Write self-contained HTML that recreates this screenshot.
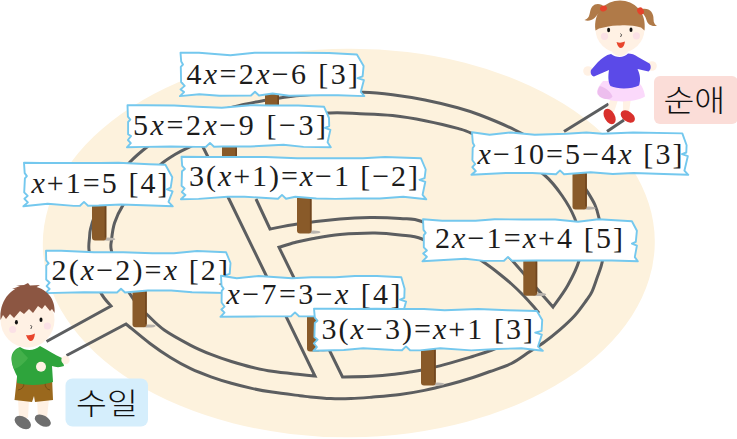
<!DOCTYPE html>
<html lang="ko"><head><meta charset="utf-8"><title>maze</title><style>html,body{margin:0;padding:0;background:#fff}svg{display:block}</style></head><body>
<svg width="737" height="439" viewBox="0 0 737 439">
<rect width="737" height="439" fill="#fff"/>
<ellipse cx="348.8" cy="243" rx="306" ry="194.3" transform="rotate(-0.35 348.8 243)" fill="#FDF2DD"/>
<path d="M46.5 341.5 L111 306 C109.3 303.8 104.0 299.0 101.0 293.0 C98.0 287.0 95.0 277.2 93.0 270.0 C91.0 262.8 89.6 255.3 89.0 250.0 C88.4 244.7 89.2 241.5 89.5 238.0 C89.8 234.5 89.6 232.8 90.5 229.0 C91.4 225.2 92.9 220.2 95.0 215.0 C97.1 209.8 99.7 203.8 103.0 198.0 C106.3 192.2 110.5 186.0 115.0 180.0 C119.5 174.0 124.7 167.5 130.0 162.0 C135.3 156.5 140.0 152.5 147.0 147.0 C154.0 141.5 162.2 134.4 172.0 129.0 C181.8 123.6 193.8 118.6 206.0 114.5 C218.2 110.4 235.1 106.7 245.0 104.3 C254.9 101.9 257.2 101.7 265.7 100.3 C274.2 98.9 285.3 97.0 296.0 95.8 C306.7 94.6 318.8 93.8 330.0 93.2 C341.2 92.6 352.6 92.0 363.0 92.2 C373.4 92.5 382.3 93.4 392.6 94.7 C402.9 96.0 414.1 97.8 425.0 100.0 C435.9 102.2 448.5 105.2 457.7 107.7 C466.9 110.2 470.4 111.3 480.0 115.0 C489.6 118.7 503.0 124.0 515.0 130.0 C527.0 136.0 542.0 143.8 552.0 151.0 C562.0 158.2 569.2 166.3 575.0 173.0 C580.8 179.7 583.7 185.7 587.0 191.0 C590.3 196.3 593.0 200.5 595.0 205.0 C597.0 209.5 597.7 212.2 599.0 218.0 C600.3 223.8 602.4 232.9 603.0 240.0 C603.6 247.1 603.5 254.2 602.5 260.5 C601.5 266.8 598.8 272.8 597.0 278.0 C595.2 283.2 593.7 287.9 592.0 291.6 C590.3 295.3 589.5 296.0 586.6 300.0 C583.7 304.0 579.1 310.7 574.6 315.7 C570.1 320.7 564.7 325.5 559.7 329.9 C554.7 334.2 549.8 338.2 544.8 341.8 C539.8 345.4 535.5 347.9 529.9 351.5 C524.3 355.1 518.0 360.2 511.4 363.5 C504.8 366.8 496.4 369.2 490.0 371.5 C483.6 373.8 479.8 375.3 473.0 377.5 C466.2 379.7 457.1 382.4 449.0 384.5 C440.9 386.6 432.6 388.7 424.4 390.4 C416.2 392.1 408.8 393.4 400.0 394.5 C391.2 395.6 379.6 396.5 371.4 397.2 C363.2 397.9 357.8 398.4 351.0 398.6 C344.2 398.8 337.5 398.9 330.7 398.6 C323.9 398.3 315.5 397.5 310.4 397.0 C305.3 396.5 306.4 396.5 300.0 395.7 C293.6 394.9 280.1 393.3 272.1 392.1 C264.1 390.9 258.6 389.9 251.8 388.4 C245.0 386.9 238.2 385.2 231.4 383.3 C224.6 381.4 217.8 379.2 211.0 376.8 C204.2 374.4 197.5 371.9 190.7 368.7 C183.9 365.5 177.2 361.7 170.4 357.5 C163.6 353.3 157.4 349.1 150.0 343.5 C142.6 337.9 130.0 327.2 126.0 324.0 L66.5 355.5" fill="none" stroke="#5C5E60" stroke-width="3.0" stroke-linejoin="miter" stroke-miterlimit="10" stroke-linecap="butt"/>
<path d="M256 199 L270 229 C274.6 228.2 285.8 225.7 297.5 224.0 C309.2 222.3 327.9 220.1 340.0 219.0 C352.1 217.9 360.0 217.6 370.0 217.5 C380.0 217.4 391.3 217.8 400.0 218.5 C408.7 219.2 412.8 217.6 422.0 221.5 C431.2 225.4 445.0 235.4 455.0 242.0 C465.0 248.6 475.0 256.0 482.0 261.0 C489.0 266.0 492.2 268.2 497.0 272.0 C501.8 275.8 506.5 279.5 511.0 283.5 C515.5 287.5 520.0 291.9 524.0 296.0 C528.0 300.1 532.5 305.5 535.0 308.3 C537.5 311.1 538.3 312.2 539.0 313.0" fill="none" stroke="#5C5E60" stroke-width="3.0" stroke-linejoin="miter" stroke-miterlimit="10" stroke-linecap="butt"/>
<path d="M520.0 338.0 C515.3 340.0 499.8 347.0 492.0 350.0 C484.2 353.0 478.5 354.6 473.3 356.2 C468.1 357.8 467.1 358.2 461.0 359.9 C454.9 361.6 443.3 364.9 436.6 366.6 C429.9 368.3 424.9 369.5 420.8 370.3 C416.7 371.1 416.8 371.0 412.0 371.7 C407.2 372.4 398.6 373.9 391.8 374.6 C385.0 375.4 379.6 375.8 371.4 376.2 C363.2 376.6 347.3 376.9 342.5 377.0 L279 247.3 C281.7 246.5 289.5 243.9 295.0 242.5 C300.5 241.1 304.5 240.0 312.0 238.7 C319.5 237.4 329.5 235.4 340.0 234.5 C350.5 233.6 365.0 232.9 375.0 233.0 C385.0 233.1 392.2 234.0 400.0 235.0 C407.8 236.0 413.7 235.7 422.0 239.0 C430.3 242.3 445.3 252.3 450.0 255.0" fill="none" stroke="#5C5E60" stroke-width="3.0" stroke-linejoin="miter" stroke-miterlimit="10" stroke-linecap="butt"/>
<path d="M129.0 292.5 C130.3 294.4 134.0 300.3 137.0 304.0 C140.0 307.7 142.5 310.2 147.0 314.5 C151.5 318.8 156.9 324.9 164.2 330.0 C171.5 335.1 182.9 341.2 190.7 345.3 C198.5 349.4 204.2 351.7 211.0 354.4 C217.8 357.1 224.6 359.4 231.4 361.5 C238.2 363.6 245.0 365.6 251.8 367.2 C258.6 368.8 264.1 370.1 272.1 371.3 C280.1 372.5 292.9 373.8 300.0 374.6 C307.1 375.4 312.5 375.8 315.0 376.0 L229 199 L200 141" fill="none" stroke="#5C5E60" stroke-width="3.0" stroke-linejoin="miter" stroke-miterlimit="10" stroke-linecap="butt"/>
<path d="M129.0 292.5 C127.2 289.1 121.0 279.1 118.0 272.0 C115.0 264.9 112.4 255.3 111.3 250.0 C110.2 244.7 111.0 244.6 111.5 240.0 C112.0 235.4 112.7 228.4 114.6 222.7 C116.5 217.0 118.5 212.4 122.7 205.6 C126.9 198.8 133.3 189.1 140.0 182.0 C146.7 174.9 157.1 167.2 162.7 162.8 C168.2 158.4 169.0 158.1 173.3 155.5 C177.7 152.9 179.4 151.6 188.8 147.3 C198.2 143.1 214.8 135.1 230.0 130.0 C245.2 125.0 263.3 119.8 280.0 117.0 C296.7 114.2 316.7 113.5 330.0 113.0 C343.3 112.5 349.6 113.3 360.0 113.7 C370.4 114.1 381.8 114.3 392.6 115.5 C403.4 116.7 414.1 118.5 425.0 120.7 C435.9 122.9 449.8 126.2 457.7 128.4 C465.6 130.6 463.3 129.6 472.4 133.7 C481.4 137.8 500.0 146.1 512.0 153.0 C524.0 159.9 536.0 167.8 544.4 175.0 C552.8 182.2 557.3 188.8 562.3 196.0 C567.3 203.2 571.6 210.7 574.6 218.0 C577.6 225.3 579.8 232.8 580.5 240.0 C581.2 247.2 581.0 253.4 578.9 261.0 C576.8 268.6 572.0 277.8 567.7 285.5 C563.4 293.2 555.5 303.4 553.0 307.0 L512.7 261 L498.7 245" fill="none" stroke="#5C5E60" stroke-width="3.0" stroke-linejoin="miter" stroke-miterlimit="10" stroke-linecap="butt"/>
<path d="M564 131.5 L608.5 104" fill="none" stroke="#5C5E60" stroke-width="3.0" stroke-linejoin="miter" stroke-miterlimit="10" stroke-linecap="butt"/>
<path d="M607 131.5 L624 120" fill="none" stroke="#5C5E60" stroke-width="3.0" stroke-linejoin="miter" stroke-miterlimit="10" stroke-linecap="butt"/>
<ellipse cx="281.0" cy="113.7" rx="7" ry="1.6" fill="#B9B4AE"/><path d="M265.0 90.0 L265.0 112.0 Q265.0 115.0 268.0 115.0 L276.0 115.0 Q279.0 115.0 279.0 112.0 L279.0 90.0 Z" fill="#895A29"/><rect x="277.4" y="90.0" width="1.6" height="22.0" fill="#6F451F"/>
<ellipse cx="239.0" cy="163.7" rx="7" ry="1.6" fill="#B9B4AE"/><path d="M222.0 140.0 L222.0 162.0 Q222.0 165.0 225.0 165.0 L234.0 165.0 Q237.0 165.0 237.0 162.0 L237.0 140.0 Z" fill="#895A29"/><rect x="235.4" y="140.0" width="1.6" height="22.0" fill="#6F451F"/>
<ellipse cx="108.3" cy="239.2" rx="7" ry="1.6" fill="#B9B4AE"/><path d="M92.0 200.0 L92.0 237.5 Q92.0 240.5 95.0 240.5 L103.3 240.5 Q106.3 240.5 106.3 237.5 L106.3 200.0 Z" fill="#895A29"/><rect x="104.7" y="200.0" width="1.6" height="37.5" fill="#6F451F"/>
<ellipse cx="148.7" cy="326.0" rx="7" ry="1.6" fill="#B9B4AE"/><path d="M132.5 288.0 L132.5 324.3 Q132.5 327.3 135.5 327.3 L143.7 327.3 Q146.7 327.3 146.7 324.3 L146.7 288.0 Z" fill="#895A29"/><rect x="145.1" y="288.0" width="1.6" height="36.3" fill="#6F451F"/>
<ellipse cx="313.5" cy="232.2" rx="7" ry="1.6" fill="#B9B4AE"/><path d="M297.0 194.0 L297.0 230.5 Q297.0 233.5 300.0 233.5 L308.5 233.5 Q311.5 233.5 311.5 230.5 L311.5 194.0 Z" fill="#895A29"/><rect x="309.9" y="194.0" width="1.6" height="36.5" fill="#6F451F"/>
<ellipse cx="588.8" cy="208.2" rx="7" ry="1.6" fill="#B9B4AE"/><path d="M572.5 170.0 L572.5 206.5 Q572.5 209.5 575.5 209.5 L583.8 209.5 Q586.8 209.5 586.8 206.5 L586.8 170.0 Z" fill="#895A29"/><rect x="585.2" y="170.0" width="1.6" height="36.5" fill="#6F451F"/>
<ellipse cx="539.2" cy="294.5" rx="7" ry="1.6" fill="#B9B4AE"/><path d="M523.3 256.0 L523.3 292.8 Q523.3 295.8 526.3 295.8 L534.2 295.8 Q537.2 295.8 537.2 292.8 L537.2 256.0 Z" fill="#895A29"/><rect x="535.6" y="256.0" width="1.6" height="36.8" fill="#6F451F"/>
<ellipse cx="323.0" cy="350.2" rx="7" ry="1.6" fill="#B9B4AE"/><path d="M307.0 312.0 L307.0 348.5 Q307.0 351.5 310.0 351.5 L318.0 351.5 Q321.0 351.5 321.0 348.5 L321.0 312.0 Z" fill="#895A29"/><rect x="319.4" y="312.0" width="1.6" height="36.5" fill="#6F451F"/>
<ellipse cx="437.7" cy="384.1" rx="7" ry="1.6" fill="#B9B4AE"/><path d="M421.0 346.0 L421.0 382.4 Q421.0 385.4 424.0 385.4 L432.7 385.4 Q435.7 385.4 435.7 382.4 L435.7 346.0 Z" fill="#895A29"/><rect x="434.1" y="346.0" width="1.6" height="36.4" fill="#6F451F"/>
<path d="M180.5 52.7 L199.0 52.7 L230.4 55.2 L254.6 52.7 L274.0 52.7 L298.6 52.7 L328.8 53.0 L356.9 54.5 L363.6 66.1 L362.6 76.4 L357.6 78.1 L363.9 80.1 L360.8 92.0 L364.3 96.1 L338.0 95.3 L320.9 95.3 L289.1 95.7 L272.6 93.5 L259.0 95.5 L255.0 91.7 L251.0 95.5 L219.5 95.7 L199.3 94.3 L179.9 96.1 L184.1 92.1 L180.6 89.4 L184.7 85.9 L181.1 82.0 L180.8 66.8 L183.0 64.5 L181.2 61.5Z" fill="#fff" stroke="#74C8EE" stroke-width="1.9" stroke-linejoin="round"/>
<text x="186.5" y="84.0" textLength="171.5" lengthAdjust="spacing" font-family="'Liberation Serif', serif" font-size="30" fill="#1c1c1c"><tspan>4</tspan><tspan font-style="italic">x</tspan><tspan>=2</tspan><tspan font-style="italic">x</tspan><tspan>−6 [3]</tspan></text>
<path d="M127.5 105.2 L146.2 105.2 L174.2 105.5 L197.1 106.7 L221.8 107.7 L250.2 105.2 L270.3 105.5 L298.2 105.5 L324.1 106.8 L329.0 118.0 L329.2 126.1 L325.0 127.8 L330.4 129.8 L327.6 142.3 L330.8 147.3 L303.5 146.9 L283.5 144.7 L250.4 146.5 L222.5 146.5 L214.0 146.7 L210.0 142.9 L206.0 146.7 L196.8 146.9 L170.8 146.5 L144.8 146.9 L126.9 147.3 L130.8 143.2 L127.9 140.0 L131.0 136.1 L128.1 134.2 L128.1 122.0 L130.3 119.7 L127.9 116.7Z" fill="#fff" stroke="#74C8EE" stroke-width="1.9" stroke-linejoin="round"/>
<text x="133.0" y="135.0" textLength="193.0" lengthAdjust="spacing" font-family="'Liberation Serif', serif" font-size="30" fill="#1c1c1c"><tspan>5</tspan><tspan font-style="italic">x</tspan><tspan>=2</tspan><tspan font-style="italic">x</tspan><tspan>−9 [−3]</tspan></text>
<path d="M24.0 162.7 L40.6 163.0 L68.3 163.0 L100.0 163.0 L118.3 162.7 L149.5 164.2 L165.4 164.7 L172.3 177.2 L170.7 187.7 L166.9 189.4 L172.6 191.4 L168.5 201.9 L172.8 206.3 L151.3 205.5 L121.0 204.5 L98.6 205.5 L88.0 205.7 L84.0 201.9 L80.0 205.7 L73.8 205.9 L47.7 203.7 L23.4 206.3 L27.9 202.4 L24.4 198.8 L27.7 195.9 L24.2 192.4 L24.9 178.4 L26.9 176.1 L24.7 173.1Z" fill="#fff" stroke="#74C8EE" stroke-width="1.9" stroke-linejoin="round"/>
<text x="31.5" y="193.0" textLength="136.0" lengthAdjust="spacing" font-family="'Liberation Serif', serif" font-size="30" fill="#1c1c1c"><tspan font-style="italic">x</tspan><tspan>+1=5 [4]</tspan></text>
<path d="M46.0 250.7 L61.1 250.7 L94.0 252.2 L123.2 252.2 L152.4 253.2 L173.9 253.2 L197.0 251.0 L226.1 252.3 L230.5 263.0 L229.7 273.9 L223.9 275.6 L230.9 277.6 L227.1 288.0 L231.3 293.1 L214.2 292.7 L192.1 292.3 L171.2 290.5 L147.9 290.5 L125.0 292.5 L121.0 288.7 L117.0 292.5 L84.1 292.3 L45.4 293.1 L49.6 289.0 L46.6 286.1 L49.6 282.7 L46.2 279.5 L46.3 265.6 L48.7 263.3 L46.2 260.3Z" fill="#fff" stroke="#74C8EE" stroke-width="1.9" stroke-linejoin="round"/>
<text x="51.5" y="280.0" textLength="176.5" lengthAdjust="spacing" font-family="'Liberation Serif', serif" font-size="30" fill="#1c1c1c"><tspan>2(</tspan><tspan font-style="italic">x</tspan><tspan>−2)=</tspan><tspan font-style="italic">x</tspan><tspan> [2]</tspan></text>
<path d="M181.5 156.7 L205.2 157.0 L230.5 157.0 L249.4 157.0 L265.7 157.0 L297.1 158.2 L317.4 158.2 L341.8 158.2 L362.9 158.2 L385.1 157.0 L420.9 158.2 L425.7 169.5 L424.6 178.1 L419.5 179.8 L425.3 181.8 L422.6 194.8 L426.3 199.3 L403.2 196.7 L379.9 198.5 L355.0 198.5 L335.5 198.9 L316.4 198.5 L295.3 196.7 L286.0 198.7 L282.0 194.9 L278.0 198.7 L244.5 196.7 L227.6 196.7 L198.6 198.9 L180.9 199.3 L185.4 195.0 L181.8 192.0 L184.6 188.5 L181.6 185.7 L182.0 171.2 L184.9 168.9 L182.2 165.9Z" fill="#fff" stroke="#74C8EE" stroke-width="1.9" stroke-linejoin="round"/>
<text x="189.0" y="185.5" textLength="229.0" lengthAdjust="spacing" font-family="'Liberation Serif', serif" font-size="30" fill="#1c1c1c"><tspan>3(</tspan><tspan font-style="italic">x</tspan><tspan>+1)=</tspan><tspan font-style="italic">x</tspan><tspan>−1 [−2]</tspan></text>
<path d="M472.0 132.2 L489.6 134.7 L510.7 132.5 L534.8 134.7 L566.2 133.7 L586.4 132.5 L602.6 133.7 L633.3 132.5 L682.3 133.4 L686.6 145.3 L686.3 152.5 L682.0 154.2 L687.8 156.2 L684.4 170.7 L688.3 174.8 L663.6 174.0 L633.5 173.0 L612.8 174.0 L590.6 172.2 L564.0 174.2 L560.0 170.4 L556.0 174.2 L532.2 173.0 L505.8 173.0 L471.4 174.8 L475.8 171.1 L472.3 167.2 L475.2 164.0 L472.4 160.3 L472.7 148.0 L474.4 145.7 L472.8 142.7Z" fill="#fff" stroke="#74C8EE" stroke-width="1.9" stroke-linejoin="round"/>
<text x="477.5" y="164.0" textLength="205.0" lengthAdjust="spacing" font-family="'Liberation Serif', serif" font-size="30" fill="#1c1c1c"><tspan font-style="italic">x</tspan><tspan>−10=5−4</tspan><tspan font-style="italic">x</tspan><tspan> [3]</tspan></text>
<path d="M423.0 219.2 L442.2 220.7 L475.5 220.7 L494.7 219.2 L522.6 219.5 L555.1 219.5 L578.0 221.7 L598.5 219.2 L631.9 221.2 L636.9 230.7 L635.8 241.9 L631.9 243.6 L636.9 245.6 L634.8 257.1 L637.8 261.3 L611.9 260.5 L589.9 260.5 L558.0 260.5 L536.5 260.5 L512.0 260.7 L508.0 256.9 L504.0 260.7 L483.8 260.9 L465.3 258.7 L422.4 261.3 L426.9 256.8 L423.2 253.5 L426.9 250.5 L423.8 247.3 L423.8 235.2 L425.7 232.9 L423.5 229.9Z" fill="#fff" stroke="#74C8EE" stroke-width="1.9" stroke-linejoin="round"/>
<text x="435.0" y="248.0" textLength="188.0" lengthAdjust="spacing" font-family="'Liberation Serif', serif" font-size="30" fill="#1c1c1c"><tspan>2</tspan><tspan font-style="italic">x</tspan><tspan>−1=</tspan><tspan font-style="italic">x</tspan><tspan>+4 [5]</tspan></text>
<path d="M221.0 275.7 L236.8 278.2 L258.8 276.0 L292.0 278.2 L311.3 277.2 L335.5 277.2 L355.0 276.0 L376.9 276.0 L401.3 277.2 L404.6 288.7 L404.3 297.9 L400.1 299.6 L406.1 301.6 L403.2 312.0 L406.3 316.8 L386.4 316.0 L364.2 314.2 L344.3 314.2 L318.6 316.4 L299.0 316.2 L295.0 312.4 L291.0 316.2 L261.4 316.4 L220.4 316.8 L224.5 312.6 L221.4 309.5 L224.6 306.6 L221.6 302.5 L221.7 290.9 L223.6 288.6 L221.5 285.6Z" fill="#fff" stroke="#74C8EE" stroke-width="1.9" stroke-linejoin="round"/>
<text x="226.5" y="304.0" textLength="174.0" lengthAdjust="spacing" font-family="'Liberation Serif', serif" font-size="30" fill="#1c1c1c"><tspan font-style="italic">x</tspan><tspan>−7=3−</tspan><tspan font-style="italic">x</tspan><tspan> [4]</tspan></text>
<path d="M314.0 308.7 L334.8 308.7 L352.9 309.0 L376.0 308.7 L397.2 309.0 L423.9 309.0 L444.6 310.2 L478.1 309.0 L508.0 310.2 L536.9 311.0 L542.2 320.1 L541.6 330.9 L535.2 332.6 L541.8 334.6 L538.0 346.6 L542.8 350.8 L521.4 348.2 L497.5 349.0 L471.2 350.4 L440.2 348.2 L420.0 350.4 L410.0 350.2 L406.0 346.4 L402.0 350.2 L393.6 350.0 L363.2 348.2 L343.8 350.0 L313.4 350.8 L316.9 347.0 L313.9 343.4 L317.6 339.7 L314.4 337.0 L314.8 323.0 L317.4 320.7 L314.8 317.7Z" fill="#fff" stroke="#74C8EE" stroke-width="1.9" stroke-linejoin="round"/>
<text x="321.5" y="339.0" textLength="211.5" lengthAdjust="spacing" font-family="'Liberation Serif', serif" font-size="30" fill="#1c1c1c"><tspan>3(</tspan><tspan font-style="italic">x</tspan><tspan>−3)=</tspan><tspan font-style="italic">x</tspan><tspan>+1 [3]</tspan></text>
<rect x="654" y="76" width="84" height="48" rx="6" fill="#FBDDD8"/>
<text transform="translate(694.3 111.3) scale(1.12 1)" text-anchor="middle" font-family="'Liberation Sans', 'Noto Sans CJK KR', sans-serif" font-size="30" font-weight="300" fill="#111">순애</text>
<rect x="65.500" y="378.500" width="82.500" height="48" rx="7" fill="#D5EEFC"/>
<text transform="translate(107 414) scale(1.12 1)" text-anchor="middle" font-family="'Liberation Sans', 'Noto Sans CJK KR', sans-serif" font-size="30" font-weight="300" fill="#111">수일</text>
<g id="girl">
<path d="M605 7.500 C601 3.200 595.500 3 592.300 6.500 C589.800 9.500 590.300 13.500 588.800 16.500 C587.800 18.500 586.200 19.600 584.400 20 C587.500 21.300 591.500 20.600 594.300 18.200 C597.200 15.700 598 12.800 602 11.500 Z" fill="#B07A48"/>
<path d="M639 10 C648 6 654 12 653.500 19 C653.500 23 655 25 657 25.700 C652 27 647.500 24.500 646.500 20 C645.500 16 643 13 639 10Z" fill="#B07A48"/>
<ellipse cx="620" cy="29" rx="24.500" ry="24" fill="#FFF1E4"/>
<path d="M595.500 30.500 C593 12 606 0.500 620 0.500 C634 0.500 647 12 644.500 30.500 L641 27.500 C634 25.500 627 25 620 25.500 C613 25 606 26.500 599 28.500 Z" fill="#B07A48"/>
<ellipse cx="603.500" cy="8.500" rx="3.600" ry="2.800" fill="#E5432B" transform="rotate(-20 603.500 8.500)"/>
<ellipse cx="640.500" cy="11" rx="3.200" ry="3.800" fill="#E5432B" transform="rotate(-30 640.500 11)"/>
<ellipse cx="608.600" cy="30" rx="1.500" ry="2.200" fill="#111"/><ellipse cx="631" cy="29.800" rx="1.500" ry="2.200" fill="#111"/>
<path d="M620.500 33.500 q2.200 1 0 3.500" stroke="#222" stroke-width="0.800" fill="none"/>
<circle cx="604.500" cy="36.300" r="3.600" fill="#FBE1E6"/><circle cx="636.400" cy="35.800" r="3.600" fill="#FBE1E6"/>
<path d="M616.500 42 Q620.500 43.500 625 41.500 Q624 48 621 48 Q618 48 616.500 42Z" fill="#E8452C"/>
<path d="M611 97 L619 97 L614 112 L607 110Z" fill="#FFF1E4"/>
<path d="M623 98 L631 98 L629 112 L623 112Z" fill="#FFF1E4"/>
<ellipse cx="609.600" cy="116.500" rx="8.300" ry="5.200" fill="#D9302C" transform="rotate(60 609.600 116.500)"/>
<ellipse cx="627.800" cy="116.500" rx="8" ry="5" fill="#D9302C" transform="rotate(35 627.800 116.500)"/>
<path d="M603 81 C598 87 596 91 597.500 94.500 C606 102.500 632 104 645 96.500 C644 89 641 84 637 81Z" fill="#FBD9FB"/>
<path d="M600 86 C596 91 597.500 95.500 601 97.500 C606 100 611 99.500 612.500 96.500 C610 91 606 88 600 86Z" fill="#EDBEEE"/>
<circle cx="588" cy="71" r="4.800" fill="#FFF1E4"/><circle cx="652" cy="66" r="4.800" fill="#FFF1E4"/>
<path d="M611 54 C606 55 602 58 598 62 L591 70 C590 73 591.500 76 594 76.500 L609 70 C608 76 608 82 610.500 86 C618 89.500 632 89 639 85.500 C641 80 640 74 637.500 69 L648.500 71.500 C651 70 651.500 66 649.500 63.500 L638 57 C635 54.500 631 53.500 628 53.500 C624 58 616 58 611 54Z" fill="#5B4AE8"/>
<path d="M612 52 C616 57.500 624 57.500 628 52 L626 49 L614 49Z" fill="#FFF1E4"/>
</g>
<g id="boy">
<path d="M18 399 L29 399 L28 418 L19 418Z" fill="#FFF1E4"/><path d="M37 399 L49 399 L47 417 L38 417Z" fill="#FFF1E4"/>
<ellipse cx="22.800" cy="422.500" rx="9" ry="5.600" fill="#6E6E6E" transform="rotate(32 22.800 422.500)"/>
<ellipse cx="42.800" cy="420.600" rx="8.600" ry="5.200" fill="#6E6E6E" transform="rotate(28 42.800 420.600)"/>
<path d="M17 377 L52 377 L53 400 L35 402 L34 396 L32 402 L14.500 400Z" fill="#9A681D"/>
<path d="M24 383 q0 6 -6 7" stroke="#6B4513" stroke-width="0.800" fill="none"/><path d="M45 383 q0 6 5 7" stroke="#6B4513" stroke-width="0.800" fill="none"/>
<ellipse cx="27.500" cy="320" rx="27" ry="27.500" fill="#FFF1E4"/>
<path d="M20 347 C14 349 11 354 11.500 360 C12 366 15 372 17 376 L17 383 C28 386 42 385.500 53 382 L52 366 C56 367.500 60 367.500 64 366 L62 358 C55 355 48 350 40 346 C34 351 26 351 20 347Z" fill="#2EA43C"/>
<path d="M19 348 C14 350 11.500 355 12 361 C12.300 364 13 366.500 14 369 C18 368 24 364 28 358 C25 355 22 351.500 19 348Z" fill="#43B04A"/>
<circle cx="65.500" cy="360" r="4.200" fill="#FFF1E4"/>
<circle cx="41" cy="366.800" r="5" fill="#FFF1E4"/>
<path d="M0.500 320 C-1 300 12 285.500 28 286 C45 286 56 298 54.500 313 L52 309 L50 311 L45 305 L42 309 L38 306 L33 313 L29 309 L24 314 L20 311 L14 318 L10 314 L6 319 L3 315 Z" fill="#8C5642"/>
<path d="M12 289 L20 286 L16 285.500 L24 285 L28 283 L30 285.500 L40 285 L35 288Z" fill="#8C5642"/>
<ellipse cx="16.400" cy="322.300" rx="1.500" ry="2.200" fill="#111"/><ellipse cx="41" cy="319.700" rx="1.500" ry="2.200" fill="#111"/>
<path d="M30.500 325 q2.400 1.200 0.300 4" stroke="#222" stroke-width="0.800" fill="none"/>
<circle cx="12.700" cy="329.500" r="3.600" fill="#FBE1E6"/><circle cx="47.400" cy="326" r="3.600" fill="#FBE1E6"/>
<path d="M26 335 Q30.500 336 35 333.500 Q34 341 31 341 Q28 341 26 335Z" fill="#E8452C"/>
</g>
</svg>
</body></html>
